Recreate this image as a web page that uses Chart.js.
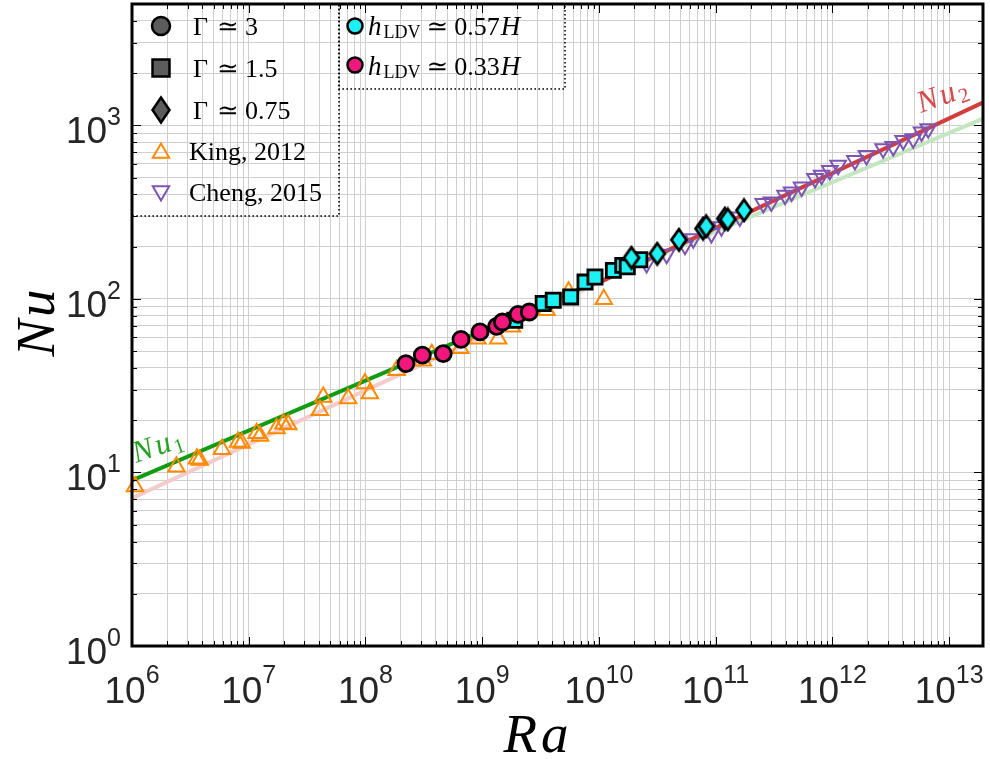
<!DOCTYPE html>
<html lang="en">
<head>
  <meta charset="UTF-8">
  <title>Nu vs Ra</title>
  <script src="https://cdn.jsdelivr.net/npm/chart.js"></script>
  <style>
    html, body{margin:0; padding:0; background:#fff;}
    #wrap{width:990px; height:759px;}
  </style>
</head>
<body>
  <div id="wrap"><canvas id="myChart" width="990" height="759"></canvas></div>
  <script>
    // values (Ra, Nu)
    const kingRa = [1.06e6, 2.4e6, 3.6e6, 3.8e6, 5.9e6, 8.1e6, 8.7e6, 1.17e7, 1.25e7, 1.73e7, 1.98e7, 2.18e7,
                    4.07e7, 4.35e7, 7.1e7, 9.9e7, 1.09e8, 1.85e8, 3.1e8, 3.7e8, 6.5e8, 9.1e8, 1.37e9, 1.8e9,
                    3.56e9, 5.5e9, 1.1e10];
    const kingNu = [8.3, 10.8, 12.0, 11.8, 13.6, 15.0, 14.8, 16.8, 16.2, 17.9, 19.1, 18.9,
                    22.8, 27.2, 26.7, 32.5, 28.5, 38.8, 44, 48, 52, 59, 59, 69,
                    86, 110, 99.5];

    const chengRa = [2.56e10, 3.8e10, 5.46e10, 6.43e10, 9.2e10, 1.12e11, 1.61e11, 2.56e11, 3.0e11, 3.93e11,
                     4.47e11, 5.45e11, 7.1e11, 8.08e11, 9.5e11, 1.12e12, 1.56e12, 1.96e12, 2.72e12, 3.32e12,
                     4.04e12, 4.92e12, 5.8e12, 6.62e12];
    const chengNu = [160, 181, 204, 222, 238, 260, 296, 354, 361, 395,
                     413, 441, 493, 515, 550, 588, 628, 671, 733, 756,
                     818, 837, 914, 956];

    // Gamma ~ 3, h_LDV ~ 0.33H (circles)
    const g3Ra = [2.22e8, 3.07e8, 4.64e8, 6.58e8, 9.57e8, 1.33e9, 1.49e9, 2.03e9, 2.53e9];
    const g3Nu = [42.4, 47.4, 48.4, 58.5, 64.5, 69.5, 73.6, 81.5, 84.0];

    // Gamma ~ 1.5, h_LDV ~ 0.57H (squares)
    const g15Ra = [1.9e9, 3.33e9, 4.06e9, 5.73e9, 7.6e9, 9.25e9, 1.33e10, 1.6e10, 1.75e10, 2.24e10];
    const g15Nu = [75.3, 94, 98.2, 102.6, 125, 133.6, 146, 156, 153, 168];

    // Gamma ~ 0.75, h_LDV ~ 0.57H (diamonds)
    const g075Ra = [1.9e10, 3.16e10, 4.84e10, 7.8e10, 8.3e10, 1.2e11, 1.27e11, 1.75e11];
    const g075Nu = [172.6, 182, 219, 254, 262, 290, 287, 324];

    // fit lines Nu1 and Nu2 (ends and switch point)
    const fitRa = [1e6, 1e10, 2e13];
    const nu1Fit = [9.0, 127, 1100];
    const nu2Fit = [7.1, 124, 1365];

    const xTickExp = [6, 7, 8, 9, 10, 11, 12, 13];
    const yTickExp = [0, 1, 2, 3];

    const SERIF = "'Liberation Serif', 'DejaVu Serif', serif";
    const SANS = "'Liberation Sans', Arial, sans-serif";

    const cOrange = '#ff8a00', cPurple = '#7d55b3';
    const cCyan = '#1cf0f2', cPink = '#f2177c', cGrey = '#5c5c5c';
    const cGreen = '#119b11', cGreenLight = '#c3e6c1';
    const cRed = '#d43c3c', cPinkLight = '#f3cbcb';

    function pts(xs, ys){ return xs.map((v, i) => ({x: v, y: ys[i]})); }

    function logTicks(min, max){
      const t = [];
      for (let e = Math.floor(Math.log10(min)); e <= Math.ceil(Math.log10(max)); e++) {
        for (let m = 1; m <= 9; m++) {
          const v = m * Math.pow(10, e);
          if (v >= min * 0.999 && v <= max * 1.001) t.push({value: v, major: m === 1});
        }
      }
      return t;
    }

    // taller-than-wide diamond marker
    function diamond(fill, hw, hh, lw){
      const c = document.createElement('canvas');
      c.width = Math.ceil(2 * hw + lw + 2);
      c.height = Math.ceil(2 * hh + lw + 2);
      const g = c.getContext('2d');
      const cx = c.width / 2, cy = c.height / 2;
      g.beginPath();
      g.moveTo(cx, cy - hh); g.lineTo(cx + hw, cy); g.lineTo(cx, cy + hh); g.lineTo(cx - hw, cy);
      g.closePath();
      g.fillStyle = fill; g.fill();
      g.lineWidth = lw; g.strokeStyle = '#000'; g.stroke();
      return c;
    }

    function runsWidth(ctx, runs){
      let w = 0;
      runs.forEach(r => { ctx.font = r.f; w += ctx.measureText(r.t).width + (r.gap || 0); });
      return w;
    }
    function drawRuns(ctx, x, y, runs){
      let cx = x;
      runs.forEach(r => {
        ctx.font = r.f;
        ctx.fillText(r.t, cx, y + (r.dy || 0));
        cx += ctx.measureText(r.t).width + (r.gap || 0);
      });
      return cx;
    }

    const decor = {
      id: 'decor',
      afterDraw(chart){
        const ctx = chart.ctx, xs = chart.scales.x, ys = chart.scales.y;
        const {left, right, top, bottom} = chart.chartArea;
        ctx.save();

        // inner tick marks on all four sides
        ctx.strokeStyle = '#000';
        ctx.lineWidth = 1;
        ctx.beginPath();
        xs.ticks.forEach(t => {
          const p = Math.round(xs.getPixelForValue(t.value)) + 0.5, len = t.major ? 9 : 5;
          ctx.moveTo(p, bottom); ctx.lineTo(p, bottom - len);
          ctx.moveTo(p, top); ctx.lineTo(p, top + len);
        });
        ys.ticks.forEach(t => {
          const p = Math.round(ys.getPixelForValue(t.value)) + 0.5, len = t.major ? 9 : 5;
          ctx.moveTo(left, p); ctx.lineTo(left + len, p);
          ctx.moveTo(right, p); ctx.lineTo(right - len, p);
        });
        ctx.stroke();

        ctx.lineWidth = 3;
        ctx.strokeRect(left, top, right - left, bottom - top);

        // tick labels 10^n
        ctx.fillStyle = '#262626';
        ctx.textAlign = 'left';
        ctx.textBaseline = 'alphabetic';
        xTickExp.forEach(e => {
          const p = xs.getPixelForValue(Math.pow(10, e));
          const runs = [{t: '10', f: '37px ' + SANS}, {t: String(e), f: '25px ' + SANS, dy: -20}];
          drawRuns(ctx, p - runsWidth(ctx, runs) / 2, 703, runs);
        });
        yTickExp.forEach(e => {
          const p = ys.getPixelForValue(Math.pow(10, e));
          const runs = [{t: '10', f: '37px ' + SANS}, {t: String(e), f: '25px ' + SANS, dy: -18}];
          drawRuns(ctx, 121 - runsWidth(ctx, runs), p + 18, runs);
        });

        // axis titles
        ctx.fillStyle = '#000';
        const raRuns = [{t: 'R', f: 'italic 55px ' + SERIF, gap: 4}, {t: 'a', f: 'italic 55px ' + SERIF}];
        drawRuns(ctx, 536 - runsWidth(ctx, raRuns) / 2, 752, raRuns);
        ctx.save();
        ctx.translate(54, 323);
        ctx.rotate(-Math.PI / 2);
        const nuRuns = [{t: 'N', f: 'italic 55px ' + SERIF, gap: 3}, {t: 'u', f: 'italic 55px ' + SERIF}];
        drawRuns(ctx, -runsWidth(ctx, nuRuns) / 2, 0, nuRuns);
        ctx.restore();

        // fit labels
        ctx.save();
        ctx.translate(136, 463);
        ctx.rotate(-19 * Math.PI / 180);
        ctx.fillStyle = '#25a325';
        drawRuns(ctx, 0, 0, [{t: 'N', f: 'italic 31px ' + SERIF, gap: 3}, {t: 'u', f: 'italic 31px ' + SERIF, gap: 2},
                             {t: '1', f: '21px ' + SERIF, dy: 5}]);
        ctx.restore();
        ctx.save();
        ctx.translate(921, 113);
        ctx.rotate(-20 * Math.PI / 180);
        ctx.fillStyle = '#d84848';
        drawRuns(ctx, 0, 0, [{t: 'N', f: 'italic 31px ' + SERIF, gap: 3}, {t: 'u', f: 'italic 31px ' + SERIF, gap: 2},
                             {t: '2', f: '21px ' + SERIF, dy: 5}]);
        ctx.restore();

        // legend boxes (dotted, transparent)
        ctx.lineWidth = 1.6;
        ctx.strokeStyle = '#000';
        ctx.setLineDash([1.6, 2.4]);
        ctx.strokeRect(left, top, 339 - left, 216 - top);
        ctx.strokeRect(339, top, 565 - 339, 89 - top);
        ctx.setLineDash([]);

        const mk = (style, r, fill, stroke, lw, x, y, rot) => {
          ctx.fillStyle = fill; ctx.strokeStyle = stroke; ctx.lineWidth = lw;
          Chart.helpers.drawPoint(ctx, {pointStyle: style, radius: r, borderWidth: lw, rotation: rot || 0}, x, y);
        };
        const f26 = '26px ' + SERIF;
        mk('circle', 9, cGrey, '#000', 2.5, 161, 26);
        mk('rect', 12, cGrey, '#000', 2.5, 161, 68);
        mk(diamond(cGrey, 8.5, 12.5, 2.5), 10, cGrey, '#000', 2.5, 161, 110);
        mk('triangle', 9.5, 'rgba(0,0,0,0)', cOrange, 2, 161, 153);
        mk('triangle', 9.5, 'rgba(0,0,0,0)', cPurple, 2, 161, 191, 180);

        ctx.fillStyle = '#000';
        const gam = ['3', '1.5', '0.75'];
        [35, 77, 119].forEach((yb, i) => {
          ctx.font = f26;
          ctx.fillText('\u0393', 193, yb);
          ctx.fillText('\u2243', 217, yb);
          ctx.fillText(gam[i], 245, yb);
        });
        ctx.font = f26;
        ctx.fillText('King, 2012', 189, 160);
        ctx.fillText('Cheng, 2015', 189, 201);

        mk('circle', 7.5, cCyan, '#000', 2.5, 355, 26);
        mk('circle', 7.5, cPink, '#000', 2.5, 355, 65);
        ctx.fillStyle = '#000';
        const hl = ['0.57', '0.33'];
        [35, 75].forEach((yb, i) => {
          drawRuns(ctx, 368, yb, [
            {t: 'h', f: 'italic 27px ' + SERIF, gap: 2},
            {t: 'LDV', f: '18px ' + SERIF, dy: 3, gap: 6},
            {t: '\u2243', f: f26, gap: 6},
            {t: hl[i], f: f26, gap: 1},
            {t: 'H', f: 'italic 27px ' + SERIF}
          ]);
        });

        ctx.restore();
      }
    };

    const ctxEl = document.getElementById('myChart');
    const scatter = (label, xs, ys, extra) => Object.assign({
      label: label, data: pts(xs, ys), showLine: false, clip: false,
      pointBorderColor: '#000', pointBorderWidth: 2.8
    }, extra);
    const line = (label, xs, ys, color, order) => ({
      label: label, data: pts(xs, ys), showLine: true, borderColor: color, borderWidth: 4,
      pointRadius: 0, pointHoverRadius: 0, order: order
    });

    new Chart(ctxEl, {
      type: 'scatter',
      data: {
        datasets: [
          line('Nu1 ext', fitRa.slice(1), nu1Fit.slice(1), cGreenLight, 21),
          line('Nu2 ext', fitRa.slice(0, 2), nu2Fit.slice(0, 2), cPinkLight, 20),
          line('Nu1', fitRa.slice(0, 2), nu1Fit.slice(0, 2), cGreen, 11),
          line('Nu2', fitRa.slice(1), nu2Fit.slice(1), cRed, 10),
          scatter('King, 2012', kingRa, kingNu, {pointStyle: 'triangle', pointRadius: 9.5, pointHoverRadius: 9.5,
            pointBackgroundColor: 'rgba(0,0,0,0)', pointBorderColor: cOrange, pointBorderWidth: 2, order: 5}),
          scatter('Cheng, 2015', chengRa, chengNu, {pointStyle: 'triangle', pointRotation: 180, pointRadius: 9,
            pointHoverRadius: 9, pointBackgroundColor: 'rgba(0,0,0,0)', pointBorderColor: cPurple,
            pointBorderWidth: 2, order: 4}),
          scatter('Gamma 1.5', g15Ra, g15Nu, {pointStyle: 'rect', pointRadius: 10, pointHoverRadius: 10,
            pointBackgroundColor: cCyan, order: 3}),
          scatter('Gamma 0.75', g075Ra, g075Nu, {pointStyle: diamond(cCyan, 7.5, 10.5, 2.8), pointRadius: 10,
            pointHoverRadius: 10, pointBackgroundColor: cCyan, order: 2}),
          scatter('Gamma 3', g3Ra, g3Nu, {pointStyle: 'circle', pointRadius: 8, pointHoverRadius: 8,
            pointBackgroundColor: cPink, order: 1})
        ]
      },
      options: {
        responsive: false,
        animation: false,
        events: [],
        layout: {autoPadding: false, padding: {left: 132, right: 7, top: 4, bottom: 113}},
        plugins: {legend: {display: false}, tooltip: {enabled: false}},
        scales: {
          x: {
            type: 'logarithmic', min: 1e6, max: 1.95e13,
            afterBuildTicks: s => { s.ticks = logTicks(s.min, s.max); },
            ticks: {display: false},
            grid: {color: '#cfcfcf', lineWidth: 1, drawTicks: false},
            border: {display: false}
          },
          y: {
            type: 'logarithmic', min: 1, max: 5000,
            afterBuildTicks: s => { s.ticks = logTicks(s.min, s.max); },
            ticks: {display: false},
            grid: {color: '#cfcfcf', lineWidth: 1, drawTicks: false},
            border: {display: false}
          }
        }
      },
      plugins: [decor]
    });
  </script>
</body>
</html>
